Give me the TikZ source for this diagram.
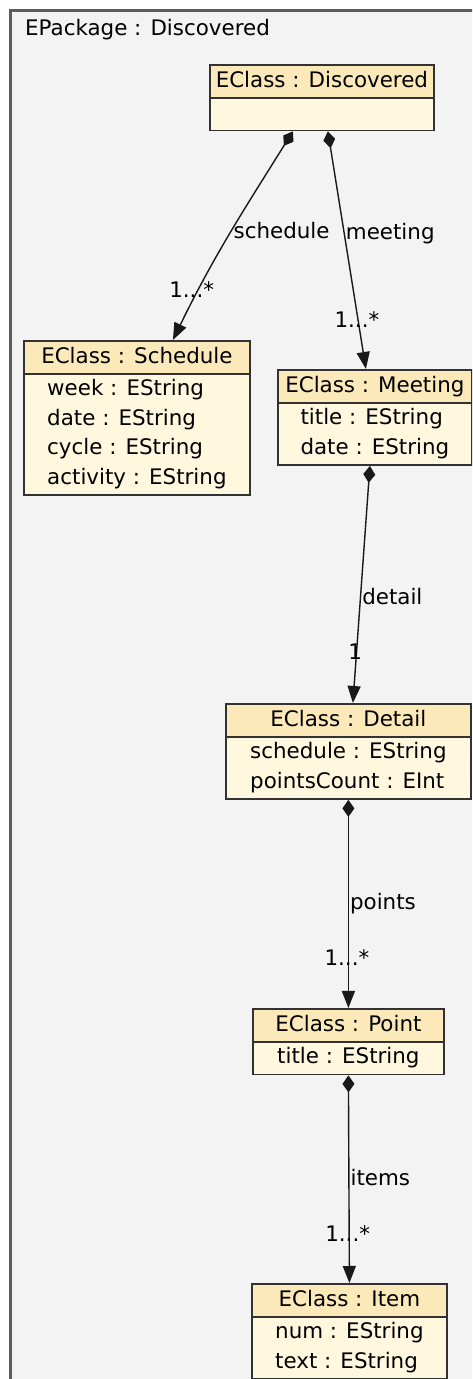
\documentclass[tikz,border=0pt]{standalone}
\usepackage{fontspec}
\newfontfamily\umlfont{DejaVu Sans}
\newcommand\umltext{\umlfont\fontsize{21.4}{29.5}\selectfont}
\usetikzlibrary{shapes.multipart,arrows.meta}
\definecolor{pkgfill}{RGB}{243,243,243}
\definecolor{pkgline}{RGB}{92,92,92}
\definecolor{headfill}{RGB}{252,233,186}
\definecolor{bodyfill}{RGB}{255,247,222}
\definecolor{boxline}{RGB}{50,50,50}
\begin{document}
\begin{tikzpicture}[x=1pt,y=1pt]

      \tikzset{eclass/.style={rectangle split, rectangle split parts=2, draw=boxline, line width=1.8pt,
                 rectangle split part fill={headfill,bodyfill}, inner xsep=2pt, inner ysep=.75pt,
                 align=left, anchor=north west, font=\umltext},
               comp/.style={draw=black!90, line width=1.4pt, {Diamond[length=17pt,width=12pt]}-{Triangle[length=17pt,width=13pt]}},
               role/.style={font=\umltext, inner sep=1pt},
               mult/.style={font=\umltext, inner sep=0pt}}
%% Package
      \useasboundingbox (0,0) rectangle (472,1379);
      \clip (0,0) rectangle (472,1379);
      \draw[pkgline, fill=pkgfill, line width=2.5pt] (10.5,1368.5) rectangle (490,-20);
      \node[font=\umltext, anchor=base west, inner sep=0pt] (pkg) at (25,1343) {EPackage : Discovered};
%% Classes
      \node[eclass, minimum width=224] (discovered) at (209,1315) {\strut EClass : Discovered\nodepart{second}\strut};
      \node[eclass, minimum width=226] (schedule) at (23,1039) {\strut EClass : Schedule\nodepart{second}\strut week : EString\\date : EString\\cycle : EString\\activity : EString\strut};
      \node[eclass, minimum width=194] (meeting) at (277,1010) {\strut EClass : Meeting\nodepart{second}\strut title : EString\\date : EString\strut};
      \node[eclass, minimum width=245] (detail) at (225,676) {\strut EClass : Detail\nodepart{second}\strut schedule : EString\\pointsCount : EInt\strut};
      \node[eclass, minimum width=191] (point) at (252,371) {\strut EClass : Point\nodepart{second}\strut title : EString\strut};
      \node[eclass, minimum width=195] (item) at (251,96) {\strut EClass : Item\nodepart{second}\strut num : EString\\text : EString\strut};
%% Containments
      \draw[comp] ([xshift=-29pt]discovered.south) to[out=238, in=64] node[role, pos=.48, right] {schedule} node[mult, pos=.78, xshift=-7pt] {1...*} ([xshift=36pt]schedule.north);
      \draw[comp] ([xshift=6pt]discovered.south) -- node[role, pos=.43, right] {meeting} node[mult, pos=.79, xshift=-1pt] {1...*} ([xshift=-9pt]meeting.north);
      \draw[comp] ([xshift=-5pt]meeting.south) -- node[role, pos=.55, right] {detail} node[mult, pos=.785, xshift=-1.5pt] {1} ([xshift=4.5pt]detail.north);
      \draw[comp] (detail.south) -- node[role, pos=.5, right] {points} node[mult, pos=.76, xshift=-1.5pt] {1...*} (point.north);
      \draw[comp] (point.south) -- node[role, pos=.49, right] {items} node[mult, pos=.76, xshift=-1.5pt] {1...*} (item.north);

\end{tikzpicture}
\end{document}
